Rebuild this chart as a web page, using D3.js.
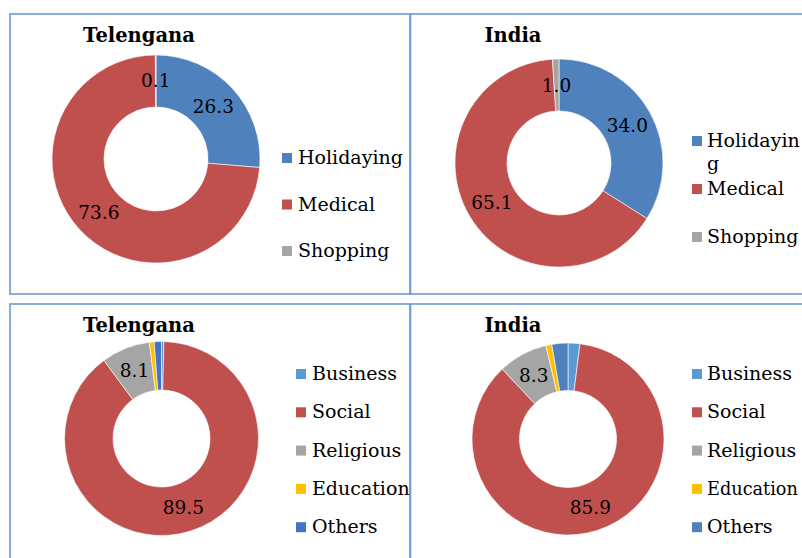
<!DOCTYPE html>
<html>
<head>
<meta charset="utf-8">
<script src="https://cdn.jsdelivr.net/npm/d3@7"></script>
<style>
  html, body { margin: 0; padding: 0; background: #fff; }
  svg { display: block; }
  text { font-family: "DejaVu Serif", "Liberation Serif", serif; }
</style>
</head>
<body>
<svg id="chart" width="802" height="558"></svg>
<script>
// ---- data ----
const purposeCategories = ["Holidaying", "Medical", "Shopping"];
const telenganaPurpose = [26.3, 73.6, 0.1];
const indiaPurpose = [34.0, 65.1, 1.0];
const purposeColors = ["#4F81BD", "#C0504D", "#A5A5A5"];

const visitCategories = ["Business", "Social", "Religious", "Education", "Others"];
const telenganaVisit = [0.4, 89.5, 8.1, 0.8, 1.2];
const indiaVisit = [2.0, 85.9, 8.3, 1.0, 2.7];
const visitColorsTel = ["#5B9BD5", "#C0504D", "#A5A5A5", "#FFC000", "#4472C4"];
const visitColorsInd = ["#5B9BD5", "#C0504D", "#A5A5A5", "#FFC000", "#4F81BD"];

const titles = ["Telengana", "India", "Telengana", "India"];

// ---- layout ----
const panels = [
  { title: titles[0], cats: purposeCategories, vals: telenganaPurpose, colors: purposeColors,
    box: [10, 14, 400, 280], titleX: 139, titleY: 42, cx: 156, cy: 159, r: 104, ir: 52,
    swX: 282, txtX: 298, legY: 164, legStep: 46.5, wrap: 200, minLabel: 0 },
  { title: titles[1], cats: purposeCategories, vals: indiaPurpose, colors: purposeColors,
    box: [410.5, 14, 400, 280], titleX: 513, titleY: 42, cx: 559, cy: 163, r: 104, ir: 52,
    swX: 692, txtX: 707, legY: 147, legStep: 48, wrap: 97, minLabel: 0 },
  { title: titles[2], cats: visitCategories, vals: telenganaVisit, colors: visitColorsTel,
    box: [10, 304, 400, 270], titleX: 139, titleY: 332, cx: 161.5, cy: 438.5, r: 97, ir: 48.5,
    swX: 296, txtX: 312, legY: 380, legStep: 38.3, wrap: 200, minLabel: 5 },
  { title: titles[3], cats: visitCategories, vals: indiaVisit, colors: visitColorsInd,
    box: [410.5, 304, 400, 270], titleX: 513, titleY: 332, cx: 568, cy: 439, r: 96, ir: 48.5,
    swX: 692, txtX: 707, legY: 380, legStep: 38.3, wrap: 200, minLabel: 5 }
];

const W = 802;
const svg = d3.select("#chart");
const fmt = d3.format(".1f");
const borderColor = "#6E9AD6";

panels.forEach(p => {
  const g = svg.append("g");
  g.append("rect")
    .attr("x", p.box[0]).attr("y", p.box[1])
    .attr("width", p.box[2]).attr("height", p.box[3])
    .attr("fill", "none").attr("stroke", borderColor).attr("stroke-width", 1.6);

  g.append("text")
    .attr("x", p.titleX).attr("y", p.titleY)
    .attr("text-anchor", "middle")
    .attr("font-size", 19.5).attr("font-weight", "bold").attr("fill", "#000")
    .text(p.title);

  const data = p.cats.map((c, i) => ({ cat: c, value: p.vals[i], color: p.colors[i] }));
  const pie = d3.pie().sort(null).value(d => d.value);
  const arc = d3.arc().innerRadius(p.ir).outerRadius(p.r);
  const arcs = pie(data);

  const dg = g.append("g").attr("transform", `translate(${p.cx},${p.cy})`);
  dg.selectAll("path").data(arcs).join("path")
    .attr("d", arc)
    .attr("fill", d => d.data.color)
    .attr("stroke", "#fff").attr("stroke-width", 0.6);

  dg.selectAll("text.lbl").data(arcs.filter(d => d.data.value >= p.minLabel)).join("text")
    .attr("class", "lbl")
    .attr("transform", d => `translate(${arc.centroid(d)})`)
    .attr("text-anchor", "middle").attr("dy", "0.35em")
    .attr("font-size", 18.5).attr("fill", "#000")
    .text(d => fmt(d.data.value));

  data.forEach((d, i) => {
    const by = p.legY + i * p.legStep;
    g.append("rect")
      .attr("x", p.swX).attr("y", by - 11)
      .attr("width", 10).attr("height", 10)
      .attr("fill", d.color);
    const fs = 19;
    const t = g.append("text")
      .attr("x", p.txtX).attr("y", by)
      .attr("font-size", fs).attr("fill", "#000")
      .text(d.cat);
    const len = t.node().getComputedTextLength();
    if (len > p.wrap) {
      const s = d.cat;
      let cut = s.length;
      t.text("");
      const probe = t.append("tspan").attr("x", p.txtX);
      while (cut > 1) {
        probe.text(s.slice(0, cut));
        if (probe.node().getComputedTextLength() <= p.wrap) break;
        cut--;
      }
      t.append("tspan").attr("x", p.txtX).attr("dy", 23).text(s.slice(cut));
    } else if (p.txtX + len > W - 3) {
      // shrink slightly so it stays inside the picture
      t.attr("font-size", fs * (W - 4 - p.txtX) / len);
    }
  });
});
</script>
</body>
</html>
